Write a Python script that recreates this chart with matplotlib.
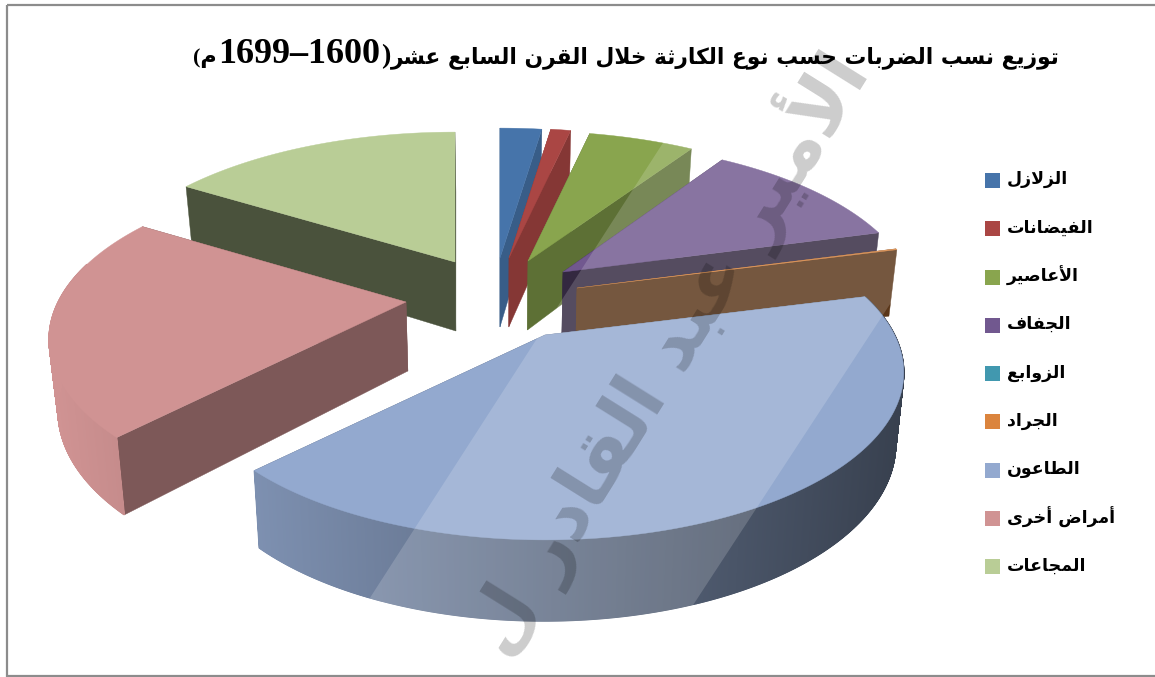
import numpy as np
import matplotlib
matplotlib.use("Agg")
import matplotlib.pyplot as plt
from matplotlib.patches import Rectangle, Polygon

# --- data ---
labels = ["الزلازل", "الفيضانات", "الأعاصير", "الجفاف", "الزوابع", "الجراد", "الطاعون", "أمراض أخرى", "المجاعات"]
values = [2.3, 1.1, 5.8, 11.6, 0.0, 0.1, 41.4, 21.6, 16.1]
colors = ["#4674AA", "#AA4644", "#89A54E", "#71588F", "#4198AF", "#DB843D", "#93A9CF", "#D09393", "#B9CD96"]
title_ar = "توزيع نسب الضربات حسب نوع الكارثة خلال القرن السابع عشر"
title_years = "1699–1600"
title_end = "م"
watermark = "الأمير عبد القادر ل"

# where each exploded slice has its tip, its size and how dark its cut faces are
tips = [(500, 258), (509, 258), (528, 261), (563, 272), (570, 281), (577, 288), (545, 335), (406, 302), (455, 262)]
sizes = [1.0, 1.0, 1.0, 0.975, 0.975, 0.985, 0.985, 0.98, 1.0]
cut_shade = [0.80, 0.78, 0.68, 0.45, 0.45, 0.41, 0.6, 0.60, 0.40]
draw_order = [8, 7, 0, 1, 2, 3, 4, 5, 6]

# perspective of the pie plate
F, G, K, DEPTH, K_DEPTH = 355.0, 159.0, 0.224, 69.0, 0.15

# --- arabic shaping, matplotlib does not join letters by itself ---
FORMS = {
    "ا": (0xFE8D, 0xFE8E, None, None), "أ": (0xFE83, 0xFE84, None, None),
    "ب": (0xFE8F, 0xFE90, 0xFE91, 0xFE92), "ة": (0xFE93, 0xFE94, None, None),
    "ت": (0xFE95, 0xFE96, 0xFE97, 0xFE98), "ث": (0xFE99, 0xFE9A, 0xFE9B, 0xFE9C),
    "ج": (0xFE9D, 0xFE9E, 0xFE9F, 0xFEA0), "ح": (0xFEA1, 0xFEA2, 0xFEA3, 0xFEA4),
    "خ": (0xFEA5, 0xFEA6, 0xFEA7, 0xFEA8), "د": (0xFEA9, 0xFEAA, None, None),
    "ر": (0xFEAD, 0xFEAE, None, None), "ز": (0xFEAF, 0xFEB0, None, None),
    "س": (0xFEB1, 0xFEB2, 0xFEB3, 0xFEB4), "ش": (0xFEB5, 0xFEB6, 0xFEB7, 0xFEB8),
    "ص": (0xFEB9, 0xFEBA, 0xFEBB, 0xFEBC), "ض": (0xFEBD, 0xFEBE, 0xFEBF, 0xFEC0),
    "ط": (0xFEC1, 0xFEC2, 0xFEC3, 0xFEC4), "ع": (0xFEC9, 0xFECA, 0xFECB, 0xFECC),
    "ف": (0xFED1, 0xFED2, 0xFED3, 0xFED4), "ق": (0xFED5, 0xFED6, 0xFED7, 0xFED8),
    "ك": (0xFED9, 0xFEDA, 0xFEDB, 0xFEDC), "ل": (0xFEDD, 0xFEDE, 0xFEDF, 0xFEE0),
    "م": (0xFEE1, 0xFEE2, 0xFEE3, 0xFEE4), "ن": (0xFEE5, 0xFEE6, 0xFEE7, 0xFEE8),
    "ه": (0xFEE9, 0xFEEA, 0xFEEB, 0xFEEC), "و": (0xFEED, 0xFEEE, None, None),
    "ى": (0xFEEF, 0xFEF0, None, None), "ي": (0xFEF1, 0xFEF2, 0xFEF3, 0xFEF4),
    "لا": (0xFEFB, 0xFEFC, None, None), "لأ": (0xFEF7, 0xFEF8, None, None),
}


def shape(text):
    text = text.replace("لا", "\uE000").replace("لأ", "\uE001")
    lig = {"\uE000": "لا", "\uE001": "لأ"}
    chars = [lig.get(c, c) for c in text]
    out = []
    for i, c in enumerate(chars):
        if c not in FORMS:
            out.append(c)
            continue
        iso, fin, ini, med = FORMS[c]
        before = i > 0 and chars[i - 1] in FORMS and FORMS[chars[i - 1]][2] is not None
        after = i + 1 < len(chars) and chars[i + 1] in FORMS and ini is not None
        if before and after:
            code = med
        elif before:
            code = fin
        elif after:
            code = ini
        else:
            code = iso
        out.append(chr(code))
    return "".join(out[::-1])


def plate(theta, size):
    # offset from the tip on the pie plate, theta clockwise from the far side
    den = 1 + K * np.cos(theta)
    return size * F * np.sin(theta) / den, -G * np.cos(theta) / den, DEPTH / (1 + K_DEPTH * np.cos(theta))


def drop(x):
    # the lower plate sits a little towards the middle
    return x + 0.02 * (500 - x)


def lighter(col, f):
    return tuple(min(1, v * f) for v in matplotlib.colors.to_rgb(col))


fig = plt.figure(figsize=(11.55, 6.77), dpi=100)
ax = fig.add_axes([0, 0, 1, 1])
ax.set_xlim(0, 1155)
ax.set_ylim(677, 0)
ax.axis("off")

edges = np.cumsum([0] + values) / sum(values) * 2 * np.pi

for i in draw_order:
    if values[i] <= 0:
        continue
    x0, y0 = tips[i]
    col = colors[i]
    th = np.linspace(edges[i], edges[i + 1], max(4, int(values[i] * 6)))
    dx, dy, d = plate(th, sizes[i])
    xs, ys = x0 + dx, y0 + dy
    bx, by = drop(xs), ys + d
    tip_bx, tip_by = drop(x0), y0 + DEPTH
    # cut faces
    for e in (0, -1):
        ax.fill([x0, xs[e], bx[e], tip_bx], [y0, ys[e], by[e], tip_by], color=lighter(col, cut_shade[i]), lw=0.3, zorder=2)
    # outer wall, darker to the right
    th2 = np.linspace(edges[i], edges[i + 1], max(4, int(values[i] * 30)))
    dx, dy, d = plate(th2, sizes[i])
    wx, wy = x0 + dx, y0 + dy
    for j in range(len(th2) - 1):
        if np.cos(th2[j]) > 0.25 or values[i] < 1:
            continue
        t = ((wx[j] + wx[j + 1]) / 2 - 50) / 855
        shade = lighter(col, 1.0 - 0.62 * t)
        ax.fill([wx[j], wx[j + 1], drop(wx[j + 1]), drop(wx[j])],
                [wy[j], wy[j + 1], wy[j + 1] + d[j + 1], wy[j] + d[j]], color=shade, lw=0.9, zorder=2)
    # top face
    ax.fill(np.r_[x0, xs], np.r_[y0, ys], color=col, lw=0.3, zorder=2)

# pale band across the picture
ax.add_patch(Polygon([(755, 0), (1089, 0), (646, 677), (319, 677)], closed=True, fc="white", ec="none", alpha=0.17, zorder=3))

# watermark
ax.text(665, 352, shape(watermark), fontsize=54, fontfamily="DejaVu Sans", fontweight="bold", color="black", alpha=0.2,
        rotation=58, rotation_mode="anchor", ha="center", va="center", zorder=4, clip_on=True)

# frame, the right side runs off the picture
ax.add_patch(Rectangle((7, 4.5), 1160, 671.5, fc="none", ec="#8c8c8c", lw=1.6, zorder=5))

# legend
for i, lab in enumerate(labels):
    yc = 180.5 + i * 48.25
    ax.add_patch(Rectangle((985, yc - 7.5), 15, 15, fc=colors[i], ec="none", zorder=6))
    ax.text(1007, yc - 1, shape(lab), fontsize=12.5, fontfamily="DejaVu Sans", fontweight="bold", ha="left", va="center", zorder=6)

# title, three pieces laid out from the right
fig.canvas.draw()
rend = fig.canvas.get_renderer()
inv = ax.transData.inverted()
tar = ax.text(1060, 63, shape(title_ar), fontsize=15.7, fontfamily="DejaVu Sans", fontweight="bold", ha="right", va="baseline", zorder=6)
left = inv.transform(tar.get_window_extent(rend))[0, 0]
tp = ax.text(left - 1, 63, ")", fontsize=20, fontfamily="Liberation Serif", fontweight="bold", ha="right", va="baseline", zorder=6)
left = inv.transform(tp.get_window_extent(rend))[0, 0]
ty = ax.text(left - 1, 63, title_years, fontsize=26, fontfamily="Liberation Serif", fontweight="bold", ha="right", va="baseline", zorder=6)
left = inv.transform(ty.get_window_extent(rend))[0, 0]
ax.text(left - 1, 63, "(" + shape(title_end), fontsize=16, fontfamily=["Liberation Serif", "DejaVu Sans"], fontweight="bold", ha="right", va="baseline", zorder=6)

fig.savefig("out.png", dpi=100, facecolor="white")
